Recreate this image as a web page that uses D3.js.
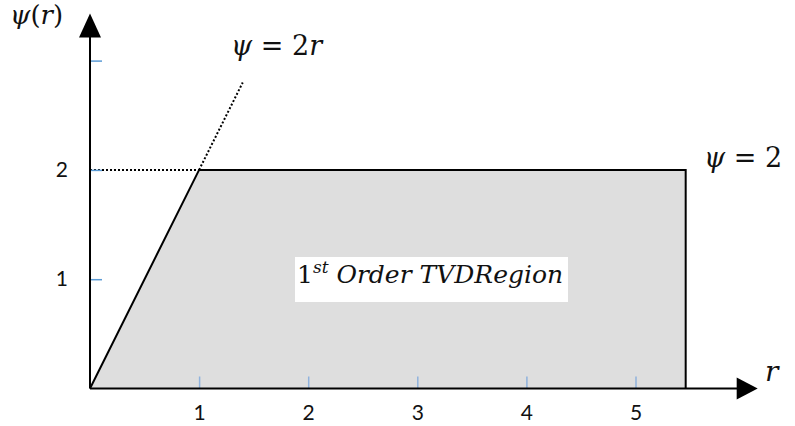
<!DOCTYPE html>
<html>
<head>
<meta charset="utf-8">
<script src="https://cdn.jsdelivr.net/npm/d3@7"></script>
<style>
  html, body { margin: 0; padding: 0; background: #fff; }
  svg { display: block; }
  .tick text { font-family: Lato, "Open Sans", sans-serif; font-size: 21px; fill: #111; }
  .math { font-family: "DejaVu Serif", "Liberation Serif", serif; fill: #111; }
</style>
</head>
<body>
<svg id="chart" width="795" height="426"></svg>
<script>
// TVD region in the (r, ψ) plane
const xTicks = [1, 2, 3, 4, 5];
const xTickLabels = ["1", "2", "3", "4", "5"];
const yTicks = [1, 2, 3];
const yTickLabels = ["1", "2", ""];

// boundary of the shaded region: ψ = 2r up to ψ = 2, then flat to r ≈ 5.46
const regionR   = [0, 1, 5.46, 5.46];
const regionPsi = [0, 2, 2, 0];

// dotted guide lines
const lineR   = [1, 1.4];     // ψ = 2r continued past the corner
const lineR2  = [0, 1];       // ψ = 2 back to the axis
const limitPsi = 2;

const rMax = 6.12, psiMax = 3.43;   // arrow tips

const svg = d3.select("#chart");
const x = d3.scaleLinear().domain([0, 6]).range([90, 744.6]);
const y = d3.scaleLinear().domain([0, 3]).range([388.5, 60.6]);

// shaded region
const pts = regionR.map((r, i) => [x(r), y(regionPsi[i])]);
svg.append("path")
  .attr("d", d3.line()(pts) + "Z")
  .attr("fill", "#dedede")
  .attr("stroke", "none");
svg.append("path")
  .attr("d", d3.line()(pts))
  .attr("fill", "none")
  .attr("stroke", "#000")
  .attr("stroke-width", 2);

// dotted lines
svg.append("line")
  .attr("x1", x(lineR[0])).attr("y1", y(2 * lineR[0]))
  .attr("x2", x(lineR[1])).attr("y2", y(2 * lineR[1]))
  .attr("stroke", "#000").attr("stroke-width", 2).attr("stroke-dasharray", "2,2");
svg.append("line")
  .attr("x1", x(lineR2[0])).attr("y1", y(limitPsi))
  .attr("x2", x(lineR2[1])).attr("y2", y(limitPsi))
  .attr("stroke", "#000").attr("stroke-width", 2).attr("stroke-dasharray", "2,2");

// label box inside the region
svg.append("rect")
  .attr("x", 295).attr("y", 257).attr("width", 273).attr("height", 45)
  .attr("fill", "#fff");

// axes (ticks point inward, labels outside)
const xAxis = d3.axisBottom(x)
  .tickValues(xTicks)
  .tickFormat((d, i) => xTickLabels[i])
  .tickSizeInner(-12).tickSizeOuter(0).tickPadding(17);
const gx = svg.append("g").attr("transform", `translate(0,${y(0)})`).call(xAxis);
gx.select(".domain").remove();
gx.selectAll(".tick line").attr("stroke", "#8fb2dd").attr("stroke-width", 1.5);

const yAxis = d3.axisLeft(y)
  .tickValues(yTicks)
  .tickFormat((d, i) => yTickLabels[i])
  .tickSizeInner(-12).tickSizeOuter(0).tickPadding(22);
const gy = svg.append("g").attr("transform", `translate(${x(0)},0)`).call(yAxis);
gy.select(".domain").remove();
gy.selectAll(".tick line").attr("stroke", "#5b9bd5").attr("stroke-width", 1.5);

// axis lines with arrowheads
svg.append("line")
  .attr("x1", x(0)).attr("y1", y(0)).attr("x2", x(rMax) - 18).attr("y2", y(0))
  .attr("stroke", "#000").attr("stroke-width", 2);
svg.append("line")
  .attr("x1", x(0)).attr("y1", y(0)).attr("x2", x(0)).attr("y2", y(psiMax) + 20)
  .attr("stroke", "#000").attr("stroke-width", 2);
const xt = x(rMax), yt = y(0);
svg.append("path")
  .attr("d", `M${xt},${yt} L${xt - 21},${yt - 11} L${xt - 21},${yt + 11} Z`)
  .attr("fill", "#000");
const xa = x(0), ya = y(psiMax);
svg.append("path")
  .attr("d", `M${xa},${ya} L${xa - 11},${ya + 24} L${xa + 11},${ya + 24} Z`)
  .attr("fill", "#000");

// math labels
function mathText(px, py, size, parts) {
  const t = svg.append("text").attr("class", "math")
    .attr("x", px).attr("y", py).attr("font-size", size);
  parts.forEach(p => {
    const s = t.append("tspan").text(p.t);
    if (p.i) s.attr("font-style", "italic");
    if (p.dy) s.attr("dy", p.dy);
    if (p.fs) s.attr("font-size", p.fs);
  });
  return t;
}

mathText(10, 24, 26, [{t: "ψ", i: 1}, {t: "("}, {t: "r", i: 1}, {t: ")"}]);
mathText(231, 55, 27, [{t: "ψ", i: 1}, {t: " = 2"}, {t: "r", i: 1}]);
mathText(704, 167, 27, [{t: "ψ", i: 1}, {t: " = 2"}]);
mathText(765, 381, 28, [{t: "r", i: 1}]);
mathText(297, 283, 25, [
  {t: "1"},
  {t: "st", i: 1, fs: 17, dy: -10},
  {t: " Order TVDRegion", i: 1, dy: 10}
]);
</script>
</body>
</html>
